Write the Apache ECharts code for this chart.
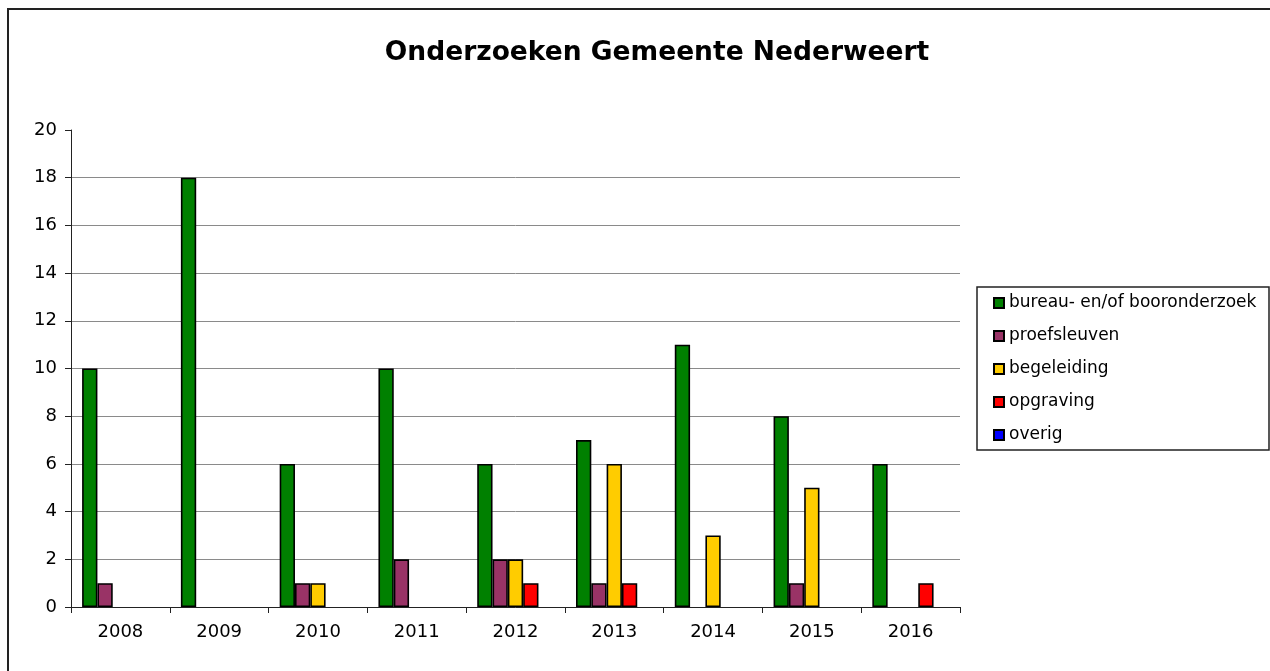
<!DOCTYPE html>
<html>
<head>
<meta charset="utf-8">
<script src="https://cdn.jsdelivr.net/npm/echarts@6/dist/echarts.min.js"></script>
<style>
  html, body { margin: 0; padding: 0; background: #fff; }
  #main { width: 1270px; height: 671px; }
</style>
</head>
<body>
<div id="main"></div>
<script>
// jaren
var years = ['2008', '2009', '2010', '2011', '2012', '2013', '2014', '2015', '2016'];
var seriesNames = ['bureau- en/of booronderzoek', 'proefsleuven', 'begeleiding', 'opgraving', 'overig'];
var bureau = [10, 18, 6, 10, 6, 7, 11, 8, 6];
var proefsleuven = [1, 0, 1, 2, 2, 1, 0, 1, 0];
var begeleiding = [0, 0, 1, 0, 2, 6, 3, 5, 0];
var opgraving = [0, 0, 0, 0, 1, 1, 0, 0, 1];
var overig = [0, 0, 0, 0, 0, 0, 0, 0, 0];
var yTicks = [0, 20, 2]; // min, max, interval

var colors = ['#008000', '#993366', '#FFCC00', '#FF0000', '#0000FF'];
var allData = [bureau, proefsleuven, begeleiding, opgraving, overig];

var myChart = echarts.init(document.getElementById('main'));

var series = seriesNames.map(function (name, i) {
  return {
    name: name,
    type: 'bar',
    barGap: '0%',
    barCategoryGap: '22.5%',
    itemStyle: { color: colors[i], borderColor: '#000', borderWidth: 1.6 },
    // nullen niet tekenen (zoals in Excel)
    data: allData[i].map(function (v) { return v === 0 ? '-' : v; })
  };
});

// rasterlijnen: bovenste (20) niet tonen
var gridColors = [];
for (var v = yTicks[0]; v <= yTicks[1]; v += yTicks[2]) {
  gridColors.push(v === yTicks[1] ? 'rgba(0,0,0,0)' : '#8a8a8a');
}

var option = {
  animation: false,
  textStyle: { fontFamily: '"DejaVu Sans", Arial, sans-serif' },
  title: {
    text: 'Onderzoeken Gemeente Nederweert',
    left: 652,
    top: 35,
    textAlign: 'center',
    textStyle: { fontSize: 26.5, fontWeight: 'bold', color: '#000', fontFamily: '"DejaVu Sans", Arial, sans-serif' }
  },
  graphic: [
    {
      type: 'rect',
      shape: { x: 8, y: 9, width: 1300, height: 700 },
      style: { fill: 'none', stroke: '#222', lineWidth: 2 },
      silent: true
    },
    {
      type: 'rect',
      shape: { x: 977, y: 287, width: 292, height: 163 },
      style: { fill: 'none', stroke: '#222', lineWidth: 1.5 },
      silent: true
    }
  ],
  legend: {
    orient: 'vertical',
    left: 988,
    top: 294,
    itemWidth: 10,
    itemHeight: 10,
    itemGap: 15,
    padding: [0, 5],
    icon: 'rect',
    textStyle: { fontSize: 17, color: '#000', lineHeight: 18, fontFamily: '"DejaVu Sans", Arial, sans-serif' },
    data: seriesNames
  },
  grid: { left: 71, right: 310, top: 130, bottom: 64, containLabel: false },
  xAxis: {
    type: 'category',
    data: years,
    axisLine: { lineStyle: { color: '#222', width: 1 } },
    axisTick: { show: true, length: 6, alignWithLabel: false, lineStyle: { color: '#222' } },
    axisLabel: { fontSize: 18, color: '#000', margin: 16 }
  },
  yAxis: {
    type: 'value',
    min: yTicks[0],
    max: yTicks[1],
    interval: yTicks[2],
    axisLine: { show: true, lineStyle: { color: '#222', width: 1 } },
    axisTick: { show: true, length: 6, lineStyle: { color: '#222' } },
    axisLabel: { fontSize: 18, color: '#000', margin: 14 },
    splitLine: { show: true, lineStyle: { color: gridColors, width: 1 } }
  },
  series: series
};

myChart.setOption(option);
</script>
</body>
</html>
